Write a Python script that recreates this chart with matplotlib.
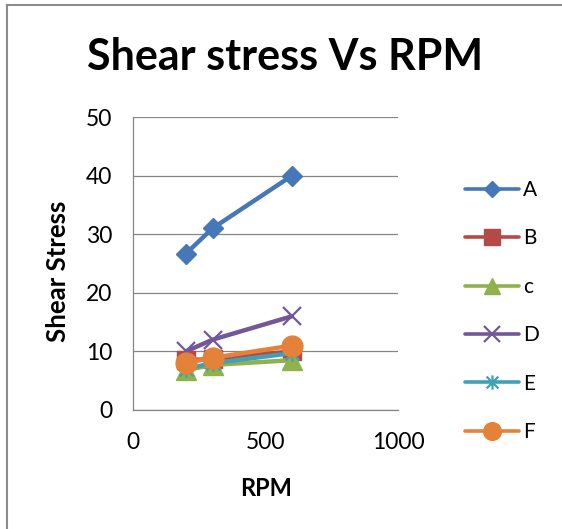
import matplotlib
matplotlib.use("Agg")
import matplotlib.pyplot as plt
from matplotlib.path import Path
from matplotlib.lines import Line2D

plt.rcParams['font.family'] = ['Lato', 'DejaVu Sans']

rpm = [200, 300, 600]
series_names = ["A", "B", "c", "D", "E", "F"]
A = [26.7, 31.0, 40.0]
B = [8.5, 8.7, 10.0]
C = [6.8, 7.7, 8.5]
D = [10.0, 12.0, 16.0]
E = [7.0, 8.0, 9.7]
F = [8.0, 8.9, 11.0]
x_ticks = [0, 500, 1000]
y_ticks = [0, 10, 20, 30, 40, 50]

star = Path([(-1, -1), (1, 1), (-1, 1), (1, -1), (0, -1.2), (0, 1.2)],
            [Path.MOVETO, Path.LINETO, Path.MOVETO, Path.LINETO, Path.MOVETO, Path.LINETO])

styles = [
    dict(color="#4677B6", marker="D", ms=10),
    dict(color="#B44A47", marker="s", ms=13),
    dict(color="#8FB24C", marker="^", ms=14),
    dict(color="#725898", marker="x", ms=13, mew=1.6),
    dict(color="#40A0B8", marker=star, ms=12, mew=1.6),
    dict(color="#E4823A", marker="o", ms=15),
]

W, H = 562, 529
fig = plt.figure(figsize=(W / 100, H / 100), dpi=100)
ax = fig.add_axes([133 / W, 1 - 410 / H, 265 / W, (410 - 117) / H])

for name, vals, st in zip(series_names, [A, B, C, D, E, F], styles):
    ax.plot(rpm, vals, lw=3.2, label=name, color=st["color"], marker=st["marker"],
            ms=st["ms"], mew=st.get("mew", 1), mec=st["color"], mfc=st["color"],
            solid_capstyle="round", clip_on=False)

ax.set_xlim(0, 1000)
ax.set_ylim(0, 50)
ax.set_xticks(x_ticks)
ax.set_yticks(y_ticks)
ax.tick_params(length=0, labelsize=16.5)
ax.tick_params(axis="x", pad=16)
ax.tick_params(axis="y", pad=15)
ax.yaxis.grid(True, color="#868686", lw=0.9)
ax.set_axisbelow(True)
for s in ["top", "right"]:
    ax.spines[s].set_visible(False)
for s in ["left", "bottom"]:
    ax.spines[s].set_color("#868686")
    ax.spines[s].set_linewidth(0.9)

fig.text(285 / W, 1 - 70 / H, "Shear stress Vs RPM", fontsize=31, fontweight="bold",
         ha="center", va="baseline")
fig.text(266 / W, 1 - 496 / H, "RPM", fontsize=17, fontweight="bold", ha="center", va="baseline")
fig.text(58 / W, 1 - 271 / H, "Shear Stress", fontsize=18.5, fontweight="bold", rotation=90,
         ha="center", va="center")

leg = fig.legend(*ax.get_legend_handles_labels(), loc="center left",
                 bbox_to_anchor=(465 / W, 1 - 311 / H),
                 frameon=False, fontsize=15, handlelength=2.6, handletextpad=0.2,
                 labelspacing=1.36, borderpad=0, borderaxespad=0, markerscale=0.85)
for h in leg.legend_handles:
    h.set_linewidth(2.6)

fig.add_artist(Line2D([7 / W, 7 / W], [0, 1 - 5 / H], color="#8C8C8C", lw=1.5))
fig.add_artist(Line2D([7 / W, 1], [1 - 5 / H, 1 - 5 / H], color="#8C8C8C", lw=1.5))

fig.savefig("out.png", dpi=100)
